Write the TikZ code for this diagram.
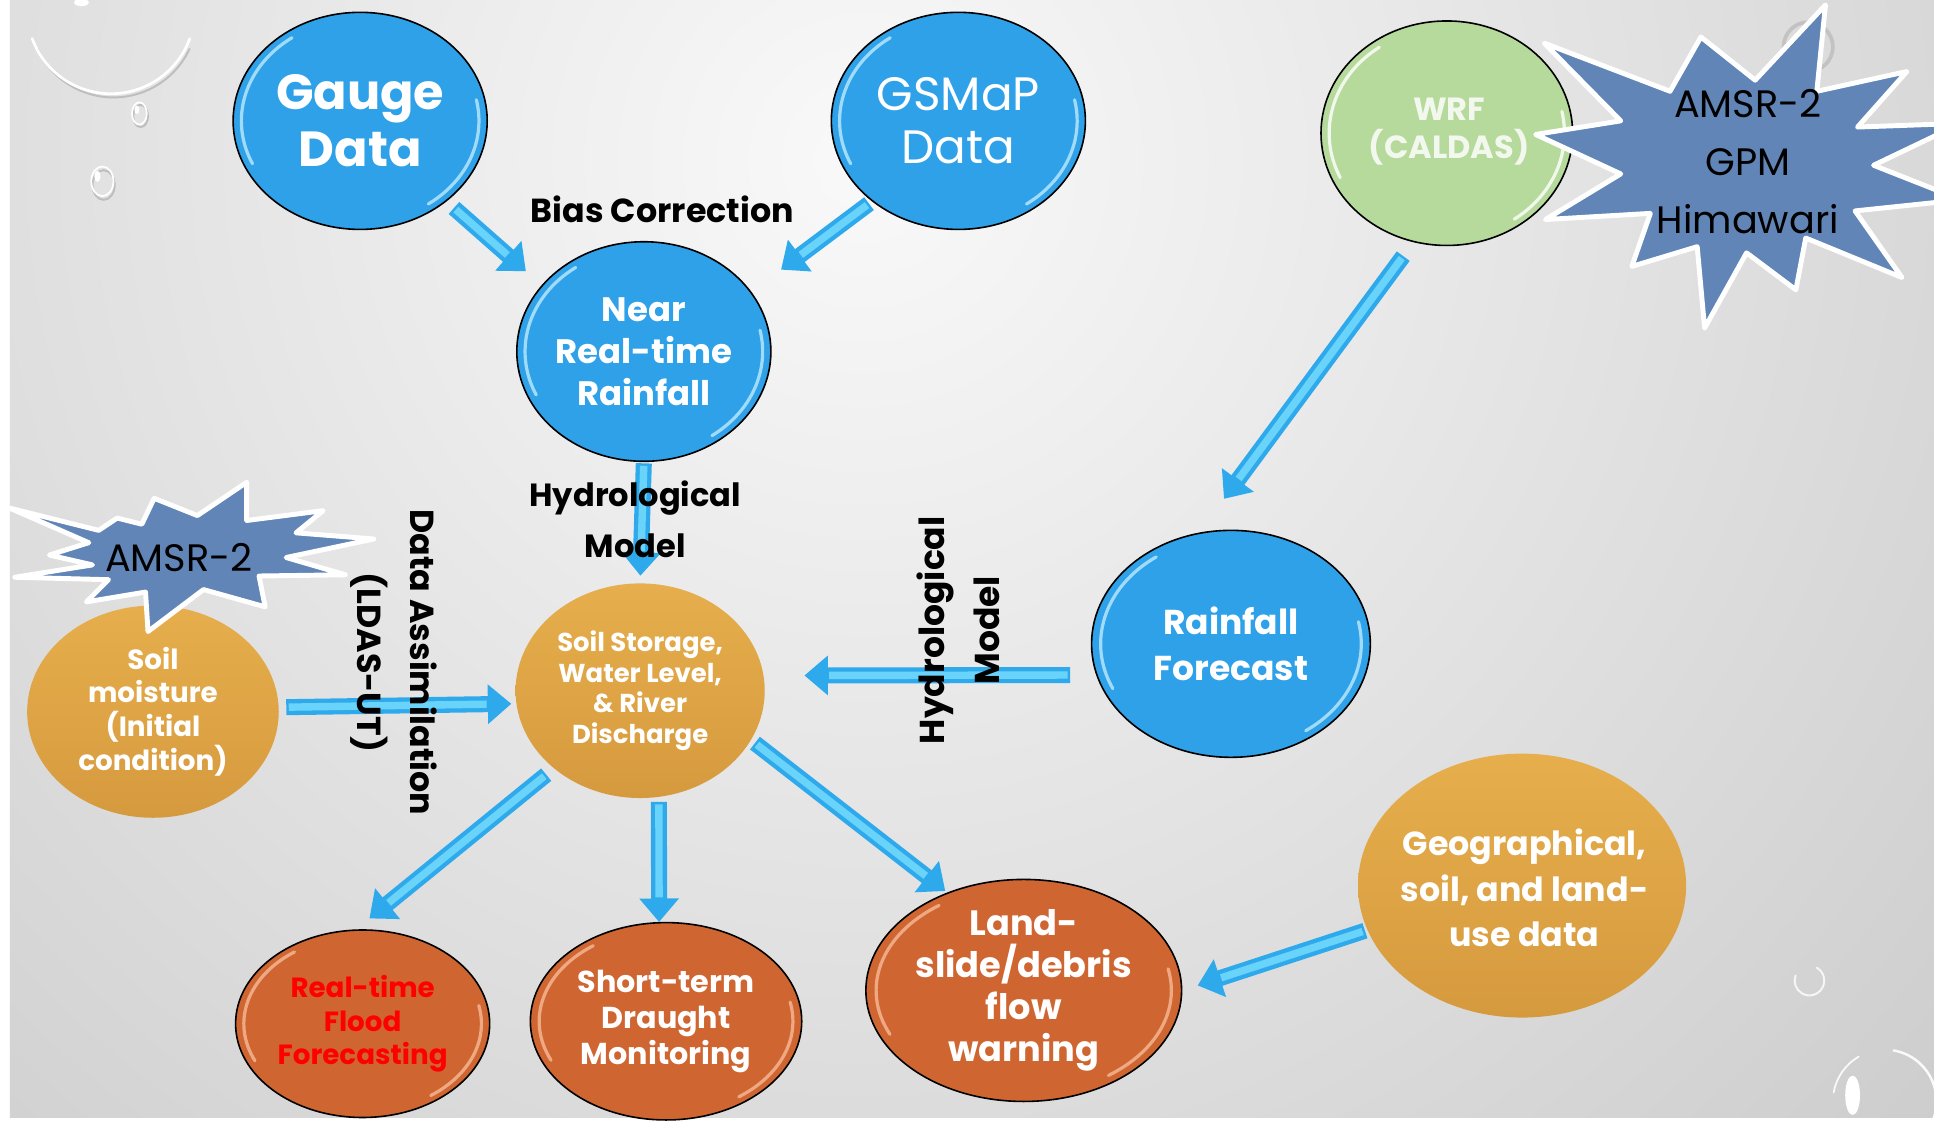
\documentclass[tikz,border=0pt]{standalone}
\usepackage{fontspec}
\setmainfont{Poppins}
\usetikzlibrary{shapes.geometric,arrows.meta}

\definecolor{bgLight}{HTML}{F9F9F9}
\definecolor{bgDark}{HTML}{BBBBBB}
\definecolor{ballBlue}{HTML}{2EA1E8}
\definecolor{ballGreen}{HTML}{B6D99C}
\definecolor{goldTop}{HTML}{E6AE4C}
\definecolor{goldBot}{HTML}{D69A3E}
\definecolor{rust}{HTML}{CF6632}
\definecolor{rustShine}{HTML}{F7BA96}
\definecolor{blueShine}{HTML}{BDEBFF}
\definecolor{starBlue}{HTML}{6085B6}
\definecolor{arrowBlue}{HTML}{2EAAEC}
\definecolor{arrowShine}{HTML}{70D8FC}
\definecolor{wrfText}{HTML}{F3F8EE}

\tikzset{
  ballbase/.style={ellipse, inner sep=0pt},
  blueball/.style={ballbase, fill=ballBlue, draw=black, line width=1.3pt},
  greenball/.style={ballbase, fill=ballGreen, draw=black, line width=1.3pt},
  goldball/.style={ballbase, top color=goldTop, bottom color=goldBot},
  rustball/.style={ballbase, fill=rust, draw=black, line width=1.3pt},
  shine/.style={line width=2.6pt, opacity=0.8, line cap=round},
  wtxt/.style 2 args={align=center, text=white, inner sep=0pt,
    font=\bfseries\fontsize{#1}{#2}\selectfont},
  rtxt/.style 2 args={align=center, text=white, inner sep=0pt,
    font=\fontsize{#1}{#2}\selectfont},
  btxt/.style 2 args={align=center, text=black, inner sep=0pt,
    font=\bfseries\fontsize{#1}{#2}\selectfont},
  startxt/.style={align=center, text=black, inner sep=0pt,
    font=\fontsize{31}{47}\selectfont},
  burst/.style={fill=starBlue, draw=white, line width=4pt, line join=round},
  arrowbody/.style={draw=arrowBlue, line width=13pt,
    -{Triangle[width=31pt,length=19pt]}},
  arrowshine/.style={draw=arrowShine, line width=6pt, opacity=0.9},
  droplet/.style={draw=white, line width=2.2pt, line cap=round},
  dropshade/.style={draw=black!35, line width=1.6pt, line cap=round, opacity=0.6},
}

% glossy rim highlights inside an elliptical ball
\newcommand\glossarcs[4]{%
  \pgfmathsetmacro\gxr{#2*0.935}%
  \pgfmathsetmacro\gyr{#3*0.935}%
  \begin{scope}[shift={(#1.center)}]
    \draw[shine, draw=#4] (125:\gxr pt and \gyr pt)
      arc[start angle=125, end angle=205, x radius=\gxr, y radius=\gyr];
    \draw[shine, draw=#4] (-55:\gxr pt and \gyr pt)
      arc[start angle=-55, end angle=12, x radius=\gxr, y radius=\gyr];
  \end{scope}}

% bevelled block arrow between two anchors
\newcommand\flowarrow[4]{%
  \draw[arrowbody, shorten <=#3pt, shorten >=#4pt] (#1) -- (#2);
  \draw[arrowshine, shorten <={#3pt+2pt}, shorten >={#4pt+20pt}] (#1) -- (#2);}

\begin{document}
\begin{tikzpicture}[x=1pt,y=1pt]
\useasboundingbox (0,0) rectangle (1568,-909);

% backdrop
\fill[white] (0,0) rectangle (1568,-909);
\begin{scope}
  \clip (8,0) rectangle (1568,-906);
  \shade[inner color=bgLight, outer color=bgDark] (700,-130) circle (1650);
\end{scope}

% water drops
\draw[dropshade] ([shift={(205:68)}]92,-11) arc[start angle=205, end angle=335, radius=68];
\draw[droplet] ([shift={(200:68)}]90,-8) arc[start angle=200, end angle=340, radius=68];
\fill[white] (66,-2) ellipse [x radius=6, y radius=3];
\draw[dropshade] (114,-94) ellipse [x radius=6, y radius=9];
\draw[droplet, line width=1.4pt] (113,-92) ellipse [x radius=6, y radius=9];
\fill[white] (111,-89) ellipse [x radius=2, y radius=3.5];
\draw[dropshade] (84,-150) ellipse [x radius=9, y radius=12];
\draw[droplet, line width=1.4pt] (83,-147) ellipse [x radius=9, y radius=12];
\fill[white] (79,-143) ellipse [x radius=2.5, y radius=4.5];
\draw[droplet, line width=1.6pt, opacity=0.8] ([shift={(60:12)}]1467,-795) arc[start angle=60, end angle=-200, radius=12];
\draw[droplet, line width=2pt, opacity=0.9] ([shift={(80:42)}]1528,-893) arc[start angle=80, end angle=-20, radius=42];
\draw[droplet, line width=1.4pt, opacity=0.9] ([shift={(120:42)}]1528,-893) arc[start angle=120, end angle=170, radius=42];
\fill[white] (1502,-888) ellipse [x radius=6, y radius=16];
\draw[black!30, line width=3pt, opacity=0.6] (1466,-38) circle (20);

% balls
\node[blueball, minimum width=206, minimum height=176] (gauge) at (292,-98) {};
\node[blueball, minimum width=206, minimum height=176] (gsmap) at (777,-98) {};
\node[blueball, minimum width=206, minimum height=178] (nrt) at (522,-285) {};
\node[greenball, minimum width=204, minimum height=182] (wrf) at (1173,-108) {};
\node[blueball, minimum width=226, minimum height=184] (rf) at (998,-522) {};
\node[goldball, minimum width=202, minimum height=174] (store) at (519,-560) {};
\node[goldball, minimum width=204, minimum height=172] (moist) at (124,-577) {};
\node[rustball, minimum width=206, minimum height=152] (flood) at (294,-830) {};
\node[rustball, minimum width=220, minimum height=160] (drought) at (540,-828) {};
\node[rustball, minimum width=256, minimum height=180] (slide) at (830,-803) {};
\node[goldball, minimum width=266, minimum height=214] (geo) at (1234,-718) {};

\glossarcs{gauge}{103}{88}{blueShine}
\glossarcs{gsmap}{103}{88}{blueShine}
\glossarcs{nrt}{103}{89}{blueShine}
\glossarcs{rf}{113}{92}{blueShine}
\glossarcs{wrf}{102}{91}{white}
\glossarcs{flood}{103}{76}{rustShine}
\glossarcs{drought}{110}{80}{rustShine}
\glossarcs{slide}{128}{90}{rustShine}

% satellite bursts
\fill[burst] (1480,-4) -- (1473,-74) -- (1546,-58) -- (1506,-103) -- (1590,-100)
  -- (1519,-134) -- (1590,-162) -- (1504,-171) -- (1542,-225) -- (1464,-193)
  -- (1456,-235) -- (1416,-205) -- (1382,-266) -- (1376,-200) -- (1323,-216)
  -- (1338,-173) -- (1253,-178) -- (1314,-141) -- (1245,-109) -- (1314,-98)
  -- (1252,-35) -- (1354,-74) -- (1379,-30) -- (1423,-65) -- cycle;
\coordinate (satellites) at (1417,-131);
\fill[burst] (200,-391) -- (200,-422) -- (262,-414) -- (240,-432) -- (303,-437)
  -- (232,-452) -- (280,-466) -- (210,-467) -- (215,-492) -- (165,-478)
  -- (120,-512) -- (118,-480) -- (70,-488) -- (88,-470) -- (12,-468)
  -- (75,-458) -- (40,-450) -- (72,-440) -- (8,-412) -- (80,-430)
  -- (95,-420) -- (115,-425) -- (125,-404) -- (160,-418) -- cycle;
\coordinate (amsr) at (145,-452);

% flows
\flowarrow{gauge.-43}{nrt.147}{8}{17}
\flowarrow{gsmap.223}{nrt.29}{3}{30}
\flowarrow{nrt.south}{store.north}{1}{6}
\flowarrow{wrf.253}{rf.106}{14}{34}
\flowarrow{rf.193}{store.7.4}{21}{33}
\flowarrow{moist.2.8}{store.186.8}{6}{4}
\flowarrow{store.222}{flood.94}{8}{14}
\flowarrow{store.280}{drought.94}{4}{0}
\flowarrow{store.336}{slide.128}{4}{2}
\flowarrow{geo.196}{slide.0}{2}{13}

% ball texts
\node[wtxt={40}{46}] (gauge-t) at (gauge) {Gauge\\Data};
\node[rtxt={38}{43}] (gsmap-t) at (gsmap) {GSMaP\\Data};
\node[wtxt={27.5}{34}] (nrt-t) at (nrt) {Near\\Real-time\\Rainfall};
\node[wtxt={26}{31}, text=wrfText] (wrf-t) at (1175,-107) {WRF\\(CALDAS)};
\node[wtxt={28}{37}] (rf-t) at (rf) {Rainfall\\Forecast};
\node[wtxt={21}{25}] (store-t) at (store) {Soil Storage,\\Water Level,\\\& River\\Discharge};
\node[wtxt={22.5}{27.5}] (moist-t) at (moist) {Soil\\moisture\\(Initial\\condition)};
\node[wtxt={22.5}{27.5}, text=red] (flood-t) at (flood) {Real-time\\Flood\\Forecasting};
\node[wtxt={24.5}{29}] (drought-t) at (drought) {Short-term\\Draught\\Monitoring};
\node[wtxt={28.5}{34}] (slide-t) at (slide) {Land-\\slide/debris\\flow\\warning};
\node[wtxt={27}{37}] (geo-t) at (1236,-720) {Geographical,\\soil, and land-\\use data};
\node[startxt] (satellites-t) at (satellites) {AMSR-2\\GPM\\Himawari};
\node[startxt] (amsr-t) at (amsr) {AMSR-2};

% process labels
\node[btxt={27}{32}] (bias) at (537,-170) {Bias Correction};
\node[btxt={26}{41}] (hydro-a) at (515,-421) {Hydrological\\Model};
\node[btxt={27}{43}, rotate=-90] (assim) at (319,-537) {Data Assimilation\\(LDAS-UT)};
\node[btxt={28}{45}, rotate=90] (hydro-b) at (777,-511) {Hydrological\\Model};
\end{tikzpicture}
\end{document}
